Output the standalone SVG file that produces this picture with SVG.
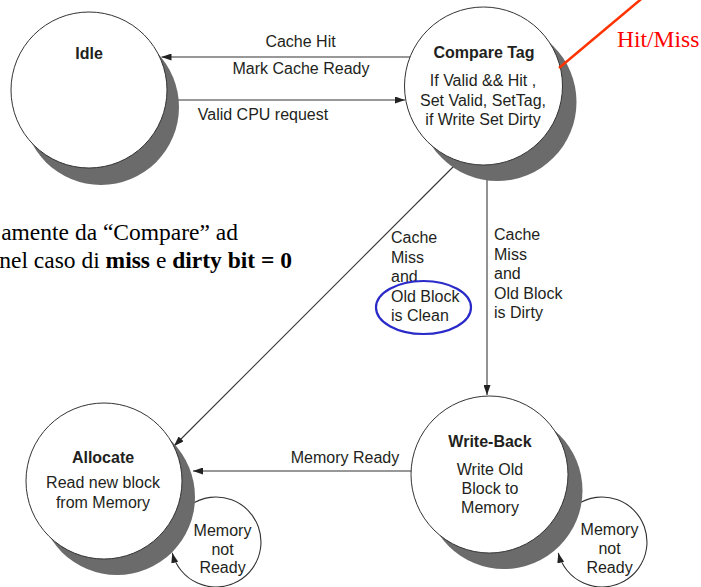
<svg xmlns="http://www.w3.org/2000/svg" width="701" height="587" viewBox="0 0 701 587">
  <defs>
    <style>
      .state { fill: #ffffff; stroke: #333333; stroke-width: 1; }
      .shadow { fill: #6b6b6b; }
      .lbl { font-family: "Liberation Sans", Arial, sans-serif; font-size: 16px; fill: #231f20; }
      .title { font-weight: bold; }
      .mid { text-anchor: middle; }
      .edge { fill: none; stroke: #333333; stroke-width: 1.1; }
      .edge-grey { fill: none; stroke: #777777; stroke-width: 1.6; }
      .note { font-family: "Liberation Serif", "Times New Roman", serif; font-size: 23.5px; fill: #000000; }
    </style>
    <marker id="arrow" markerUnits="userSpaceOnUse" markerWidth="10" markerHeight="7" refX="10" refY="3.5" orient="auto">
      <path d="M0,0 L10,3.5 L0,7 z" fill="#222222"/>
    </marker>
  </defs>

  <rect width="701" height="587" fill="#ffffff"/>

  <!-- transitions -->
  <g id="connectors">
    <!-- Compare Tag -> Idle -->
    <line class="edge" x1="411" y1="57" x2="161.5" y2="57" marker-end="url(#arrow)"/>
    <text class="lbl mid" x="300.5" y="47">Cache Hit</text>
    <text class="lbl mid" x="301" y="74">Mark Cache Ready</text>

    <!-- Idle -> Compare Tag -->
    <line class="edge" x1="170" y1="100" x2="405" y2="100" marker-end="url(#arrow)"/>
    <text class="lbl mid" x="263" y="120">Valid CPU request</text>

    <!-- Compare Tag -> Allocate -->
    <line class="edge" x1="454" y1="166" x2="174" y2="446" stroke="#555555" marker-end="url(#arrow)"/>
    <text class="lbl" x="391" y="243">Cache</text>
    <text class="lbl" x="391" y="262.5">Miss</text>
    <text class="lbl" x="391" y="282">and</text>
    <text class="lbl" x="391" y="301.5">Old Block</text>
    <text class="lbl" x="391" y="321">is Clean</text>

    <!-- Compare Tag -> Write-Back -->
    <line class="edge-grey" x1="487" y1="175" x2="487" y2="395" marker-end="url(#arrow)"/>
    <text class="lbl" x="494" y="240">Cache</text>
    <text class="lbl" x="494" y="259.5">Miss</text>
    <text class="lbl" x="494" y="279">and</text>
    <text class="lbl" x="494" y="298.5">Old Block</text>
    <text class="lbl" x="494" y="318">is Dirty</text>

    <!-- Write-Back -> Allocate -->
    <line class="edge" x1="412" y1="471" x2="193" y2="471" marker-end="url(#arrow)"/>
    <text class="lbl mid" x="345" y="463">Memory Ready</text>

    <!-- Allocate self loop -->
    <path class="edge" d="M177,519.5 A45,45 0 1 1 172.3,552.9" marker-end="url(#arrow)"/>
    <text class="lbl mid" x="222.5" y="536">Memory</text>
    <text class="lbl mid" x="222.5" y="554.5">not</text>
    <text class="lbl mid" x="222.5" y="573">Ready</text>

    <!-- Write-Back self loop -->
    <path class="edge" d="M563,519.5 A45,45 0 1 1 558.3,552.9" marker-end="url(#arrow)"/>
    <text class="lbl mid" x="609.5" y="535">Memory</text>
    <text class="lbl mid" x="609.5" y="554">not</text>
    <text class="lbl mid" x="609.5" y="573">Ready</text>
  </g>

  <g id="idle">
    <circle class="shadow" cx="101" cy="107" r="78"/>
    <circle class="state" cx="89" cy="90" r="78"/>
    <text class="lbl title mid" x="89" y="59">Idle</text>
  </g>

  <g id="compare-tag">
    <circle class="shadow" cx="497.5" cy="102" r="79"/>
    <circle class="state" cx="483.5" cy="86" r="79"/>
    <text class="lbl title mid" x="484" y="58">Compare Tag</text>
    <text class="lbl mid" x="483" y="86">If Valid &amp;&amp; Hit ,</text>
    <text class="lbl mid" x="483" y="106">Set Valid, SetTag,</text>
    <text class="lbl mid" x="483" y="125">if Write Set Dirty</text>
  </g>

  <g id="allocate">
    <circle class="shadow" cx="117" cy="497" r="78"/>
    <circle class="state" cx="104" cy="481" r="78"/>
    <text class="lbl title mid" x="103" y="463">Allocate</text>
    <text class="lbl mid" x="103" y="488">Read new block</text>
    <text class="lbl mid" x="103" y="508">from Memory</text>
  </g>

  <g id="write-back">
    <circle class="shadow" cx="504" cy="490.5" r="78.5"/>
    <circle class="state" cx="489.5" cy="474.5" r="78.5"/>
    <text class="lbl title mid" x="490" y="447">Write-Back</text>
    <text class="lbl mid" x="490" y="475">Write Old</text>
    <text class="lbl mid" x="490" y="494">Block to</text>
    <text class="lbl mid" x="490" y="513">Memory</text>
  </g>

  <!-- annotations -->
  <g id="annotations">
    <line x1="559" y1="68" x2="646" y2="-5" stroke="#ff3300" stroke-width="2.5"/>
    <text class="note" x="617" y="47" style="fill:#ff0000">Hit/Miss</text>
    <ellipse cx="423.5" cy="307.5" rx="47.5" ry="26.5" fill="none" stroke="#2a2ac8" stroke-width="2.2"/>
    <text class="note" x="238" y="240" text-anchor="end">amente da “Compare” ad</text>
    <text class="note" x="292" y="268" text-anchor="end">nel caso di <tspan font-weight="bold">miss</tspan> e <tspan font-weight="bold">dirty bit = 0</tspan></text>
  </g>
</svg>
